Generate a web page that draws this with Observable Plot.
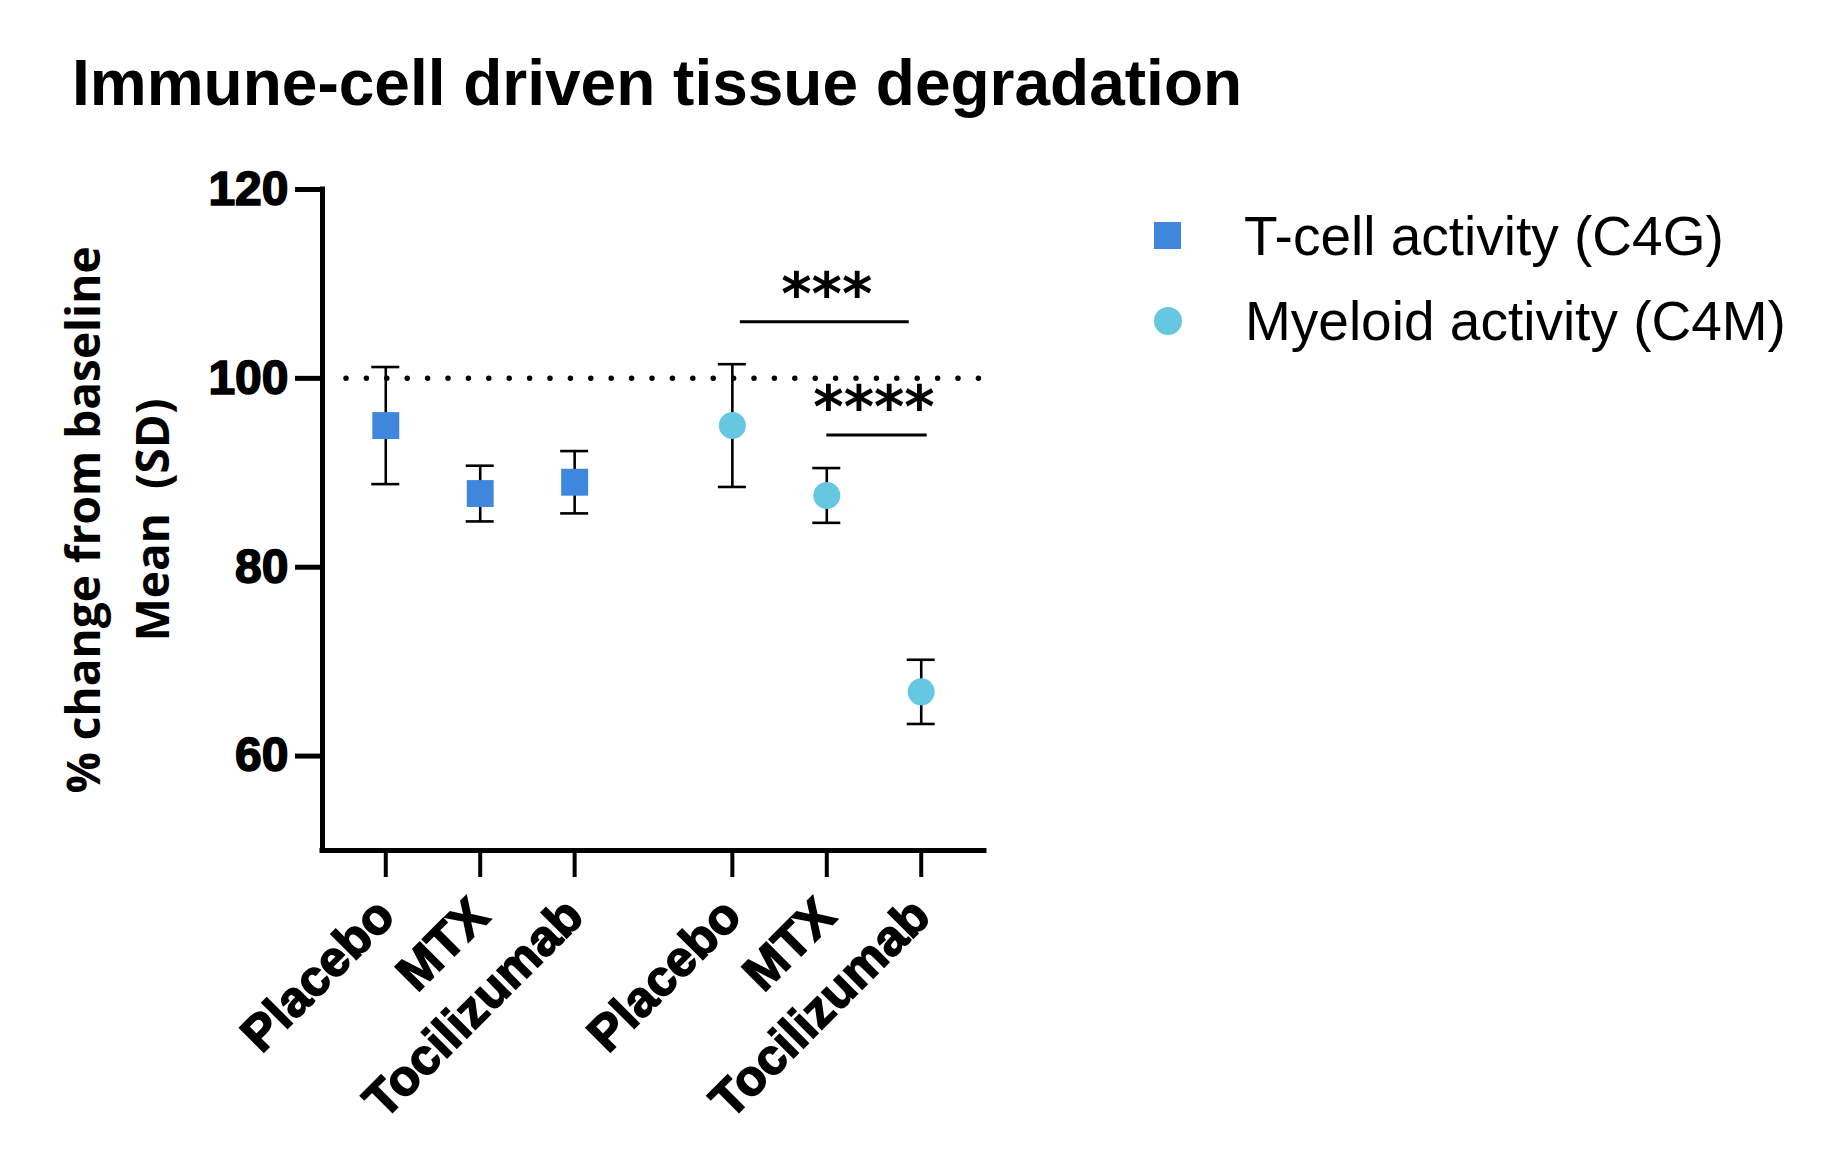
<!DOCTYPE html>
<html><head><meta charset="utf-8">
<script src="https://cdn.jsdelivr.net/npm/d3@7"></script>
<script src="https://cdn.jsdelivr.net/npm/@observablehq/plot@0.6"></script>
<style>
body{margin:0;background:#fff;}
#wrap{position:relative;width:1831px;height:1174px;overflow:hidden;background:#fff;}
#title{position:absolute;left:72px;top:52px;font:bold 64px "Liberation Sans",Arial,sans-serif;line-height:63px;white-space:nowrap;color:#000;}
#chart{position:absolute;left:0;top:140px;}
#legend{position:absolute;left:1154px;top:193px;font:55px "Liberation Sans",Arial,sans-serif;color:#000;}
.row{display:flex;align-items:center;height:85px;white-space:nowrap;}
.sw{width:27px;height:27px;margin-right:63px;flex:none;}
#chart g[aria-label="x-axis tick label"] text,
#chart g[aria-label="y-axis tick label"] text{stroke:#000;stroke-width:1.6px;paint-order:stroke;}
</style></head>
<body><div id="wrap"><div id="title"></div><div id="chart"></div><div id="legend"></div></div>
<script>
const titleText = "Immune-cell driven tissue degradation";
const treatments = ["Placebo", "MTX", "Tocilizumab"];
const seriesKeys = ["C4G", "C4M"];
const seriesNames = ["T-cell activity (C4G)", "Myeloid activity (C4M)"];
const seriesColors = ["#3f87dc", "#66c7e0"];
const seriesSymbols = ["square", "circle"];
const c4gMean = [95.0, 87.8, 89.0];
const c4gSD = [6.2, 2.95, 3.3];
const c4mMean = [95.0, 87.6, 66.8];
const c4mSD = [6.5, 2.9, 3.4];
const yTicks = [60, 80, 100, 120];
const yDomain = [50, 120];
const baselineValue = 100;
const yLabelLines = ["% change from baseline", "Mean  (SD)"];
const compSeries = ["C4M", "C4M"];
const compFrom = ["Placebo", "MTX"];
const compTo = ["Tocilizumab", "Tocilizumab"];
const compY = [106, 94];
const compLabel = ["***", "****"];

// layout
const groupGap = 0.67;
const groupStride = treatments.length + groupGap;
const pos = (s, t) => seriesKeys.indexOf(s) * groupStride + treatments.indexOf(t);
const xDomain = [-groupGap, (seriesKeys.length - 1) * groupStride + treatments.length - 1 + groupGap];
const bracketInsets = [[8, 12], [0, -6]];

const means = {C4G: c4gMean, C4M: c4mMean};
const sds = {C4G: c4gSD, C4M: c4mSD};
const rows = [];
seriesKeys.forEach((s) => treatments.forEach((t, i) => {
  const m = means[s][i], sd = sds[s][i];
  rows.push({series: s, treatment: t, x: pos(s, t), mean: m, lo: m - sd, hi: m + sd});
}));
const comps = compLabel.map((label, i) => ({
  x1: pos(compSeries[i], compFrom[i]), x2: pos(compSeries[i], compTo[i]), y: compY[i], label
}));
const tickLabel = new Map(rows.map(d => [d.x, d.treatment]));

document.getElementById("title").textContent = titleText;

const font = '"Liberation Sans", Arial, sans-serif';
const chart = Plot.plot({
  width: 1100, height: 1034,
  marginTop: 49, marginBottom: 324, marginLeft: 322, marginRight: 116,
  x: {domain: xDomain, axis: null},
  y: {domain: yDomain, axis: null},
  style: {fontFamily: font, background: "white", overflow: "visible", color: "#000"},
  marks: [
    Plot.ruleY([baselineValue], {stroke: "#000", strokeWidth: 5.5, strokeDasharray: "0 20.4", strokeLinecap: "round", insetLeft: 24}),
    Plot.ruleX(rows, {x: "x", y1: "lo", y2: "hi", stroke: "#000", strokeWidth: 2.6}),
    Plot.ruleY(rows, {x1: "x", x2: "x", y: "hi", insetLeft: -14, insetRight: -14, stroke: "#000", strokeWidth: 2.6}),
    Plot.ruleY(rows, {x1: "x", x2: "x", y: "lo", insetLeft: -14, insetRight: -14, stroke: "#000", strokeWidth: 2.6}),
    Plot.dot(rows.filter(d => d.series === seriesKeys[0]), {x: "x", y: "mean", symbol: seriesSymbols[0], r: 15.2, fill: seriesColors[0]}),
    Plot.dot(rows.filter(d => d.series === seriesKeys[1]), {x: "x", y: "mean", symbol: seriesSymbols[1], r: 13.5, fill: seriesColors[1]}),
    ...comps.map((c, i) => Plot.ruleY([c], {x1: "x1", x2: "x2", y: "y", stroke: "#000", strokeWidth: 3, insetLeft: bracketInsets[i][0], insetRight: bracketInsets[i][1]})),
    Plot.text(comps, {x: d => (d.x1 + d.x2) / 2, y: "y", text: "label", fontFamily: '"DejaVu Sans"', fontWeight: "bold", fontSize: 58, lineAnchor: "bottom", dy: -8, fill: "#000"}),
    Plot.ruleX([xDomain[0]], {stroke: "#000", strokeWidth: 5, strokeLinecap: "square"}),
    Plot.ruleY([yDomain[0]], {stroke: "#000", strokeWidth: 5, strokeLinecap: "square"}),
    Plot.axisY({ticks: yTicks, tickSize: 27, tickPadding: 7, strokeWidth: 5, fontSize: 48, fontWeight: "bold", label: null, stroke: "#000"}),
    Plot.axisX({ticks: rows.map(d => d.x), tickFormat: d => tickLabel.get(d), tickSize: 27, tickPadding: 30, tickRotate: -45, strokeWidth: 4, fontSize: 50, fontWeight: "bold", label: null, stroke: "#000"}),
    Plot.text([yLabelLines.join("\n")], {frameAnchor: "left", rotate: -90, dx: -210, fontFamily: '"Open Sans"', fontWeight: "bold", fontSize: 46, lineHeight: 1.5, textAnchor: "middle", lineAnchor: "middle", fill: "#000"})
  ]
});
document.getElementById("chart").appendChild(chart);

const legend = document.getElementById("legend");
seriesNames.forEach((name, i) => {
  const row = document.createElement("div");
  row.className = "row";
  const sw = document.createElement("div");
  sw.className = "sw";
  sw.style.background = seriesColors[i];
  if (seriesSymbols[i] === "circle") { sw.style.borderRadius = "50%"; sw.style.width = "28px"; sw.style.height = "28px"; }
  const label = document.createElement("span");
  label.textContent = name;
  row.appendChild(sw); row.appendChild(label);
  legend.appendChild(row);
});
</script>
</body></html>
